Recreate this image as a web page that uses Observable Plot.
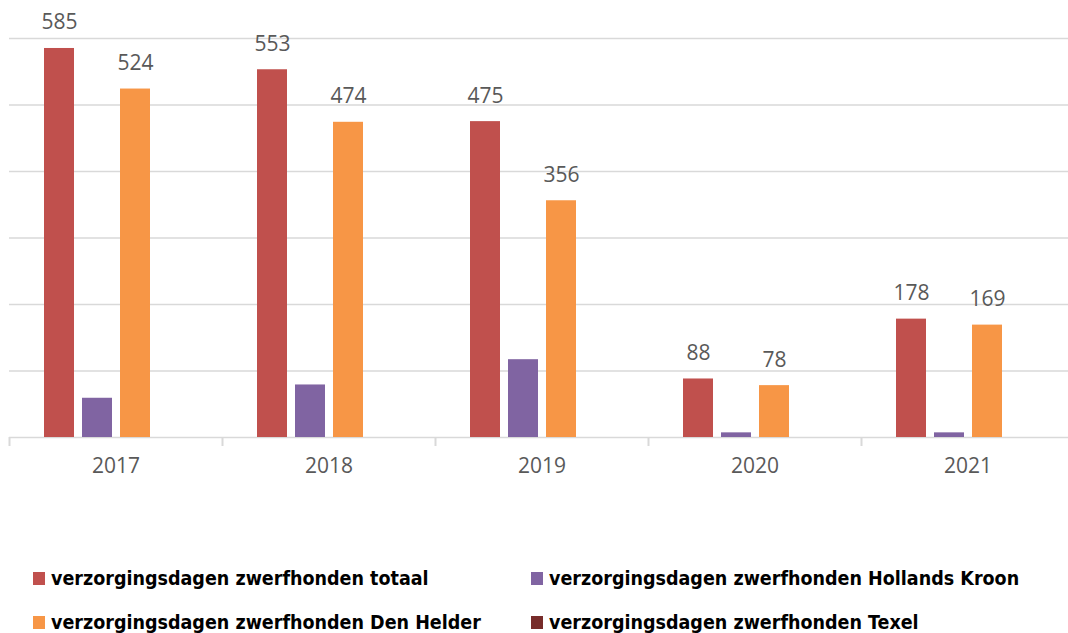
<!DOCTYPE html>
<html>
<head>
<meta charset="utf-8">
<script src="https://cdn.jsdelivr.net/npm/d3@7"></script>
<script src="https://cdn.jsdelivr.net/npm/@observablehq/plot@0.6"></script>
<style>
  html, body { margin: 0; padding: 0; background: #fff; }
  #wrap { position: relative; width: 1068px; height: 633px; overflow: hidden; }
  #legend { position: absolute; left: 0; top: 0; width: 1068px; height: 633px; pointer-events: none; }
  .item { position: absolute; display: flex; align-items: center; white-space: nowrap;
          font-family: "Liberation Sans Narrow", "DejaVu Sans Condensed", sans-serif;
          font-weight: bold; font-size: 19.5px; color: #000; }
  .sw { width: 12px; height: 13px; margin-right: 6px; }
</style>
</head>
<body>
<div id="wrap"><div id="chart"></div><div id="legend"></div></div>
<script>
// ---- data ----
const years = ["2017", "2018", "2019", "2020", "2021"];
const seriesNames = [
  "verzorgingsdagen zwerfhonden totaal",
  "verzorgingsdagen zwerfhonden Hollands Kroon",
  "verzorgingsdagen zwerfhonden Den Helder",
  "verzorgingsdagen zwerfhonden Texel"
];
const totaal        = [585, 553, 475, 88, 178];
const hollandsKroon = [59, 79, 117, 7, 7];
const denHelder     = [524, 474, 356, 78, 169];
const texel         = [0, 0, 0, 0, 0];
const labelled      = [seriesNames[0], seriesNames[2]];
const yTicks        = [0, 100, 200, 300, 400, 500, 600];
const colors        = ["#c0504d", "#8064a2", "#f79646", "#772c2a"];

const valuesBySeries = [totaal, hollandsKroon, denHelder, texel];
const data = [];
years.forEach((yr, i) => {
  seriesNames.forEach((s, j) => data.push({year: yr, series: s, value: valuesBySeries[j][i]}));
});

const width = 1068, height = 490;
const mL = 9, mR = -6;
const band = (width - mL - mR) / years.length;

const chart = Plot.plot({
  width, height,
  marginTop: 38, marginBottom: 53, marginLeft: mL, marginRight: mR,
  style: {fontFamily: "'Open Sans', sans-serif", background: "transparent", overflow: "visible"},
  fx: {domain: years, padding: 0, label: null, axis: null},
  x: {domain: seriesNames, paddingInner: 0.22, paddingOuter: 0.88, axis: null},
  y: {domain: [0, 600], axis: null},
  color: {domain: seriesNames, range: colors},
  marks: [
    Plot.ruleY(yTicks, {stroke: "#d9d9d9", strokeWidth: 1.6}),
    Plot.barY(data, {fx: "year", x: "series", y: "value", fill: "series"}),
    Plot.text(data.filter(d => labelled.includes(d.series)), {
      fx: "year", x: "series", y: "value", text: d => String(d.value),
      lineAnchor: "bottom", dy: -19, fontSize: 21, fill: "#595959"
    }),
    Plot.axisFx({anchor: "bottom", tickSize: 9, stroke: "#d9d9d9", strokeWidth: 2,
      strokeOpacity: 1, tickFormat: () => "", dx: -band / 2, label: null}),
    Plot.axisFx({anchor: "bottom", tickSize: 0, tickPadding: 21, fontSize: 21,
      fill: "#595959", label: null})
  ]
});
document.getElementById("chart").appendChild(chart);

// ---- legend ----
const legendPos = [
  {left: 33, top: 578}, {left: 531, top: 578},
  {left: 33, top: 622}, {left: 531, top: 622}
];
const legend = document.getElementById("legend");
seriesNames.forEach((s, j) => {
  const el = document.createElement("div");
  el.className = "item";
  el.style.left = legendPos[j].left + "px";
  el.style.top = (legendPos[j].top - 15) + "px";
  el.style.height = "30px";
  el.innerHTML = `<span class="sw" style="background:${colors[j]}"></span><span>${s}</span>`;
  legend.appendChild(el);
});
</script>
</body>
</html>
